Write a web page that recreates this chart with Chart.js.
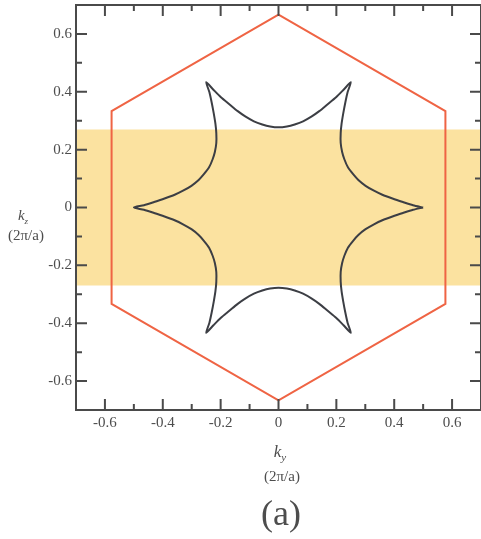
<!DOCTYPE html>
<html>
<head>
<meta charset="utf-8">
<script src="https://cdn.jsdelivr.net/npm/chart.js@4"></script>
<style>
  html, body { margin: 0; padding: 0; background: #fff; }
</style>
</head>
<body>
<canvas id="bzChart" width="481" height="539"></canvas>
<script>
// Fermi contour (star), closed loop
const starX = [
  0.500, 0.465, 0.430, 0.394, 0.359, 0.330, 0.301, 0.276, 0.258, 0.240, 0.228, 0.220, 0.215, 0.215,
  0.218, 0.224, 0.231, 0.239, 0.250, 0.225, 0.199, 0.170, 0.141, 0.115, 0.085, 0.056, 0.029, 0.000,
  -0.029, -0.056, -0.085, -0.115, -0.141, -0.170, -0.199, -0.225, -0.250, -0.239, -0.231, -0.224, -0.218, -0.215,
  -0.215, -0.220, -0.228, -0.240, -0.258, -0.276, -0.301, -0.330, -0.359, -0.394, -0.430, -0.465, -0.500,
  -0.465, -0.430, -0.394, -0.359, -0.330, -0.301, -0.276, -0.258, -0.240, -0.228, -0.220, -0.215, -0.215,
  -0.218, -0.224, -0.231, -0.239, -0.250, -0.225, -0.199, -0.170, -0.141, -0.115, -0.085, -0.056, -0.029, 0.000,
  0.029, 0.056, 0.085, 0.115, 0.141, 0.170, 0.199, 0.225, 0.250, 0.239, 0.231, 0.224, 0.218, 0.215,
  0.215, 0.220, 0.228, 0.240, 0.258, 0.276, 0.301, 0.330, 0.359, 0.394, 0.430, 0.465, 0.500
];
const starY = [
  0.000, 0.008, 0.019, 0.031, 0.044, 0.058, 0.075, 0.095, 0.115, 0.139, 0.166, 0.192, 0.223, 0.257,
  0.289, 0.326, 0.363, 0.399, 0.433, 0.407, 0.381, 0.357, 0.333, 0.315, 0.298, 0.287, 0.280, 0.277,
  0.280, 0.287, 0.298, 0.315, 0.333, 0.357, 0.381, 0.407, 0.433, 0.399, 0.363, 0.326, 0.289, 0.257,
  0.223, 0.192, 0.166, 0.139, 0.115, 0.095, 0.075, 0.058, 0.044, 0.031, 0.019, 0.008, 0.000,
  -0.008, -0.019, -0.031, -0.044, -0.058, -0.075, -0.095, -0.115, -0.139, -0.166, -0.192, -0.223, -0.257,
  -0.289, -0.326, -0.363, -0.399, -0.433, -0.407, -0.381, -0.357, -0.333, -0.315, -0.298, -0.287, -0.280, -0.277,
  -0.280, -0.287, -0.298, -0.315, -0.333, -0.357, -0.381, -0.407, -0.433, -0.399, -0.363, -0.326, -0.289, -0.257,
  -0.223, -0.192, -0.166, -0.139, -0.115, -0.095, -0.075, -0.058, -0.044, -0.031, -0.019, -0.008, 0.000
];

// Brillouin zone hexagon
const hexX = [0, 0.577, 0.577, 0, -0.577, -0.577, 0];
const hexY = [0.667, 0.333, -0.333, -0.667, -0.333, 0.333, 0.667];

// shaded band
const bandX = [-0.7, 0.7];
const bandTopY = [0.27, 0.27];
const bandBottomY = [-0.27, -0.27];

// ticks
const labelTicks = [-0.6, -0.4, -0.2, 0, 0.2, 0.4, 0.6];
const allTicks = [-0.7, -0.6, -0.5, -0.4, -0.3, -0.2, -0.1, 0, 0.1, 0.2, 0.3, 0.4, 0.5, 0.6, 0.7];

const zip = (xs, ys) => xs.map((x, i) => ({ x: x, y: ys[i] }));

const SERIF = '"Liberation Serif", "DejaVu Serif", serif';
const TEXT = '#4d4d4d';

function drawK(ctx, cx, base, sub, size) {
  ctx.font = 'italic ' + size + 'px ' + SERIF;
  const kw = ctx.measureText('k').width;
  const subSize = Math.round(size * 0.62);
  ctx.font = 'italic ' + subSize + 'px ' + SERIF;
  const sw = ctx.measureText(sub).width;
  const x0 = cx - (kw + sw) / 2;
  ctx.textAlign = 'left';
  ctx.font = 'italic ' + size + 'px ' + SERIF;
  ctx.fillText('k', x0, base);
  ctx.font = 'italic ' + subSize + 'px ' + SERIF;
  ctx.fillText(sub, x0 + kw, base + size * 0.25);
}

const framePlugin = {
  id: 'frame',
  afterDatasetsDraw(chart) {
    const { ctx, chartArea: a, scales: { x, y } } = chart;
    ctx.save();
    ctx.strokeStyle = '#4a4a4a';
    ctx.lineWidth = 2;
    ctx.strokeRect(a.left, a.top, a.right - a.left, a.bottom - a.top);
    allTicks.forEach(v => {
      const len = labelTicks.includes(v) ? 11 : 6;
      const px = x.getPixelForValue(v);
      const py = y.getPixelForValue(v);
      ctx.beginPath();
      ctx.moveTo(px, a.bottom); ctx.lineTo(px, a.bottom - len);
      ctx.moveTo(px, a.top); ctx.lineTo(px, a.top + len);
      ctx.moveTo(a.left, py); ctx.lineTo(a.left + len, py);
      ctx.moveTo(a.right, py); ctx.lineTo(a.right - len, py);
      ctx.stroke();
    });
    ctx.restore();
  },
  afterDraw(chart) {
    const ctx = chart.ctx;
    ctx.save();
    ctx.fillStyle = TEXT;
    ctx.textBaseline = 'alphabetic';
    // bottom axis title
    drawK(ctx, 280, 457, 'y', 17);
    ctx.textAlign = 'center';
    ctx.font = '15px ' + SERIF;
    ctx.fillText('(2\u03c0/a)', 282, 481);
    // left axis title
    drawK(ctx, 23, 220, 'z', 15);
    ctx.textAlign = 'center';
    ctx.font = '15px ' + SERIF;
    ctx.fillText('(2\u03c0/a)', 26, 240);
    // panel label
    ctx.font = '36px ' + SERIF;
    ctx.fillText('(a)', 281, 525);
    ctx.restore();
  }
};

const ctx = document.getElementById('bzChart').getContext('2d');
const bzChart = new Chart(ctx, {
  type: 'line',
  data: {
    datasets: [
      {
        label: 'Fermi contour',
        data: zip(starX, starY),
        borderColor: '#3c3e44',
        borderWidth: 2,
        pointRadius: 0,
        tension: 0.25,
        fill: false,
        order: 1
      },
      {
        label: 'Brillouin zone',
        data: zip(hexX, hexY),
        borderColor: '#ef6444',
        borderWidth: 2,
        pointRadius: 0,
        tension: 0,
        fill: false,
        order: 2
      },
      {
        label: 'band top',
        data: zip(bandX, bandTopY),
        borderWidth: 0,
        borderColor: 'rgba(0,0,0,0)',
        backgroundColor: '#fbe2a0',
        pointRadius: 0,
        fill: '+1',
        order: 3
      },
      {
        label: 'band bottom',
        data: zip(bandX, bandBottomY),
        borderWidth: 0,
        borderColor: 'rgba(0,0,0,0)',
        pointRadius: 0,
        fill: false,
        order: 3
      }
    ]
  },
  options: {
    responsive: false,
    animation: false,
    layout: { padding: { top: 5, right: 0, bottom: 0, left: 0 } },
    plugins: {
      legend: { display: false },
      tooltip: { enabled: false }
    },
    scales: {
      x: {
        type: 'linear',
        min: -0.7,
        max: 0.7,
        afterBuildTicks: s => { s.ticks = labelTicks.map(v => ({ value: v })); },
        afterFit: s => { s.height = 129; s.paddingLeft = 0; s.paddingRight = 0; },
        grid: { display: false, drawTicks: false },
        border: { display: false },
        ticks: {
          autoSkip: false,
          maxRotation: 0,
          padding: 4,
          color: TEXT,
          font: { family: SERIF, size: 15 },
          callback: v => String(v)
        }
      },
      y: {
        type: 'linear',
        min: -0.7,
        max: 0.7,
        afterBuildTicks: s => { s.ticks = labelTicks.map(v => ({ value: v })); },
        afterFit: s => { s.width = 76; s.paddingTop = 0; s.paddingBottom = 0; },
        grid: { display: false, drawTicks: false },
        border: { display: false },
        ticks: {
          autoSkip: false,
          padding: 4,
          color: TEXT,
          font: { family: SERIF, size: 15 },
          callback: v => String(v)
        }
      }
    }
  },
  plugins: [framePlugin]
});
</script>
</body>
</html>
